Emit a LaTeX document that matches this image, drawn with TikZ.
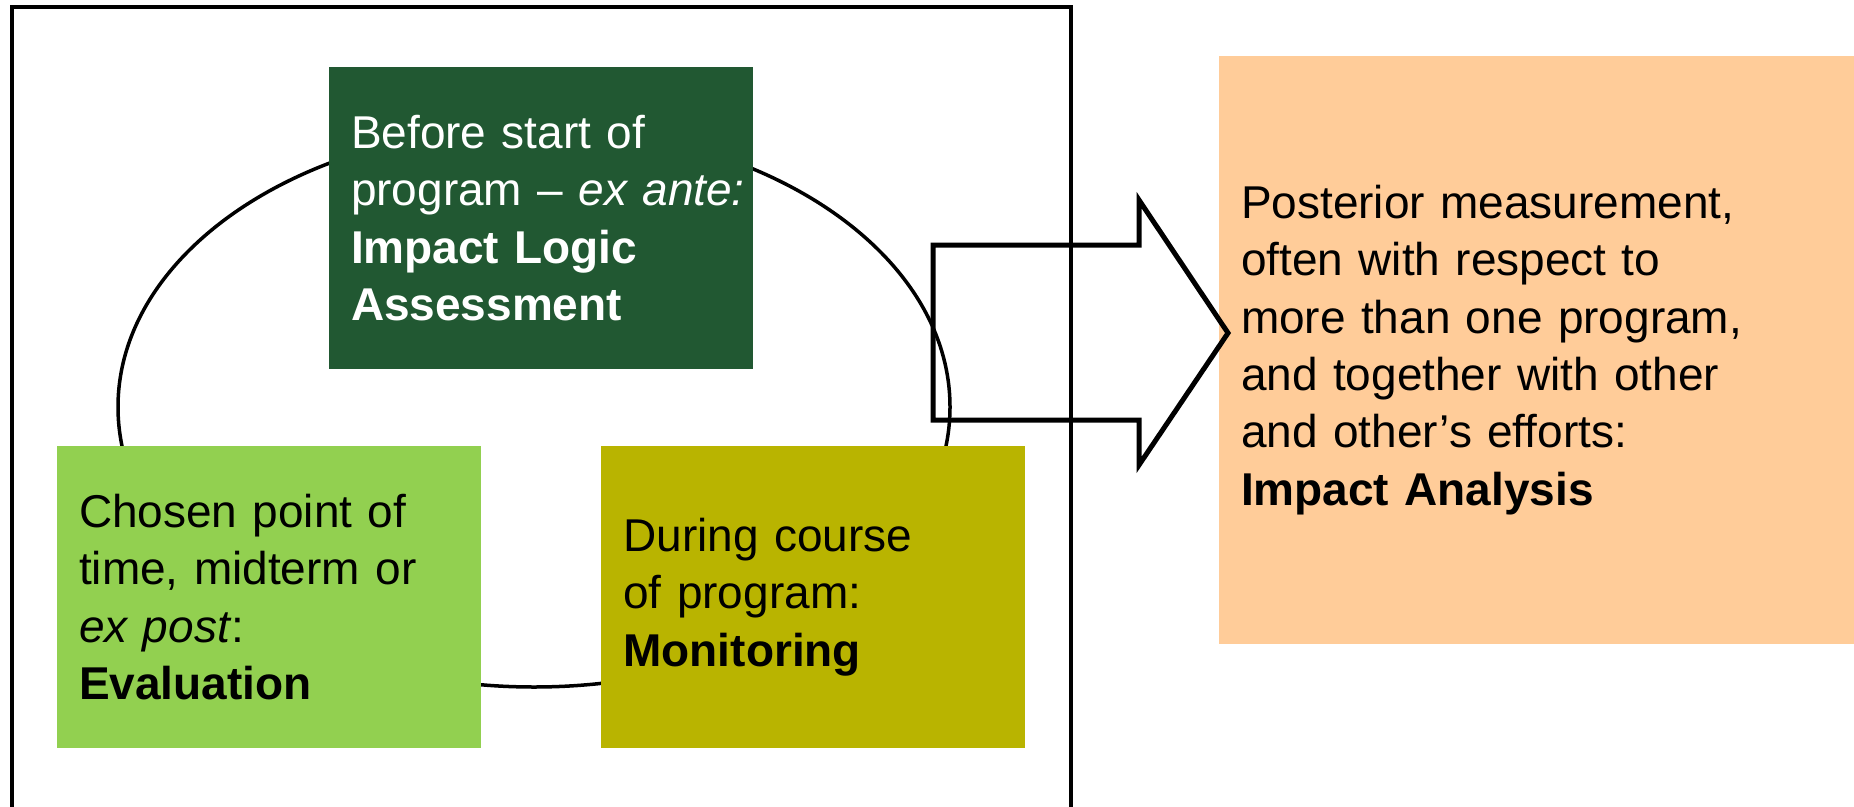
\documentclass[tikz,border=0pt]{standalone}
\usepackage{fontspec}
\setmainfont{Liberation Sans}
\usepackage{xcolor}
\usepackage{tikz}
\usetikzlibrary{positioning}

\definecolor{antegreen}{RGB}{33,88,50}
\definecolor{postgreen}{RGB}{146,208,80}
\definecolor{duringolive}{RGB}{185,180,0}
\definecolor{impactpeach}{RGB}{255,204,153}

\tikzset{
  phase/.style={rectangle, inner xsep=22pt, inner ysep=0pt, text width=380pt,
    minimum height=302pt, align=left, font=\fontsize{46pt}{57.4pt}\selectfont}
}

\begin{document}
\begin{tikzpicture}[x=1pt, y=-1pt]
            \useasboundingbox (0,0) rectangle (1854,806);
            \draw[line width=4pt] (12,820) -- (12,7) -- (1071,7) -- (1071,820);
            \draw[line width=3.5pt] (534,407) ellipse [x radius=416, y radius=280];

            \node[phase, fill=antegreen, text=white] (ante) at (541,218)
                {Before start of\\\mbox{program -- \textit{ex ante:}}\\\textbf{Impact Logic}\\\textbf{Assessment}};
            \node[phase, fill=postgreen] (post) at (269,597)
                {Chosen point of\\time, midterm or\\\textit{ex post}:\\\textbf{Evaluation}};
            \node[phase, fill=duringolive, right=120pt of post] (during)
                {During course\\of program:\\\textbf{Monitoring}};
            \node[phase, fill=impactpeach, text width=591pt, minimum height=588pt] (impact) at (1536.5,350)
                {Posterior measurement,\\often with respect to\\more than one program,\\and together with other\\and other’s efforts:\\\textbf{Impact Analysis}};

            \draw[line width=5pt, miter limit=10] (933,245) -- (1139,245) -- (1139,200) -- (1228,333)
                -- (1139,465) -- (1139,420) -- (933,420) -- cycle;
        \end{tikzpicture}
\end{document}
